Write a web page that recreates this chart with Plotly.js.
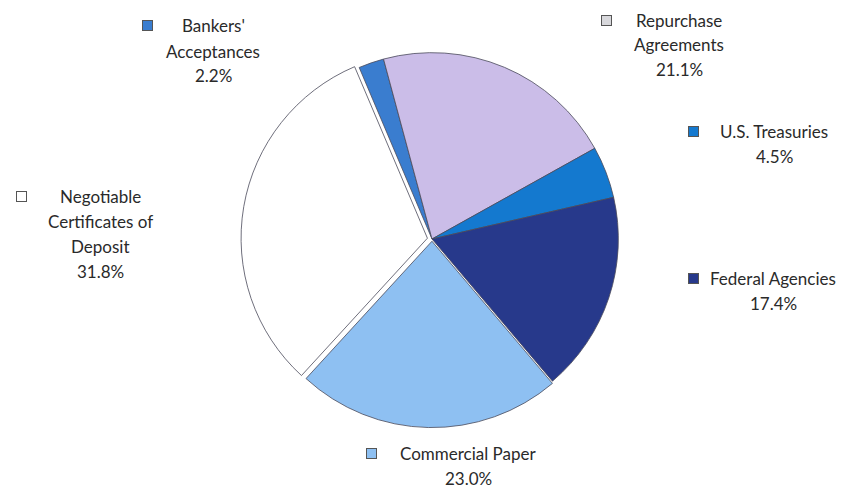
<!DOCTYPE html>
<html>
<head>
<meta charset="utf-8">
<script src="https://cdn.plot.ly/plotly-3.0.1.min.js"></script>
<style>html,body{margin:0;padding:0;background:#fff;}#chart{width:863px;height:490px;}</style>
</head>
<body>
<div id="chart"></div>
<script>
// Data
var categories = ["Bankers'<br>Acceptances", "Repurchase<br>Agreements", "U.S. Treasuries", "Federal Agencies", "Commercial Paper", "Negotiable<br>Certificates of<br>Deposit"];
var shares = [2.2, 21.1, 4.5, 17.4, 23.0, 31.8];
var shareLabels = ["2.2%", "21.1%", "4.5%", "17.4%", "23.0%", "31.8%"];

// Styles
var sliceColors = ["#3a7dcf", "#cbbde8", "#1479cf", "#27398b", "#8ec0f2", "#ffffff"];
var markerColors = ["#3a7dcf", "#d8d8dc", "#1479cf", "#27398b", "#8ec0f2", "#ffffff"];
var pulls = [0, 0, 0, 0, 0.012, 0.025];
// label anchor positions (pixels from top-left): text centre x, first-line y, marker x
var labelPos = [
  {x: 213, y: 26, mx: 147},
  {x: 679, y: 20, mx: 606},
  {x: 774, y: 131, mx: 693},
  {x: 773, y: 278, mx: 693},
  {x: 468, y: 453, mx: 371},
  {x: 100, y: 196, mx: 21}
];
var lineGap = 25;

var W = 863, H = 490;
var fontFam = "Lato, 'Open Sans', sans-serif";
var annotations = [];
for (var i = 0; i < categories.length; i++) {
  var p = labelPos[i];
  var lines = categories[i].split('<br>').concat([shareLabels[i]]);
  for (var k = 0; k < lines.length; k++) {
    annotations.push({
      xref: 'paper', yref: 'paper',
      x: p.x / W, y: 1 - (p.y + k * lineGap) / H,
      xanchor: 'center', yanchor: 'middle',
      text: lines[k],
      showarrow: false, align: 'center',
      font: {family: fontFam, size: 17, color: '#2a2a2a'}
    });
  }
  annotations.push({
    xref: 'paper', yref: 'paper',
    x: p.mx / W, y: 1 - p.y / H,
    xanchor: 'center', yanchor: 'middle',
    text: '', showarrow: false,
    width: 9, height: 9,
    bgcolor: markerColors[i],
    bordercolor: '#555', borderwidth: 1, borderpad: 0
  });
}

var trace = {
  type: 'pie',
  labels: categories,
  values: shares,
  sort: false,
  direction: 'clockwise',
  rotation: -23,
  pull: pulls,
  textinfo: 'none',
  hoverinfo: 'label+percent',
  marker: {colors: sliceColors, line: {color: '#4a4a5a', width: 0.8}},
  domain: {x: [(432 - 192) / W, (432 + 192) / W], y: [(H - 430) / H, (H - 48) / H]},
  showlegend: false
};

var layout = {
  width: W, height: H,
  margin: {l: 0, r: 0, t: 0, b: 0},
  paper_bgcolor: '#ffffff',
  plot_bgcolor: '#ffffff',
  showlegend: false,
  annotations: annotations
};

Plotly.newPlot('chart', [trace], layout, {displayModeBar: false, staticPlot: true});
</script>
</body>
</html>
